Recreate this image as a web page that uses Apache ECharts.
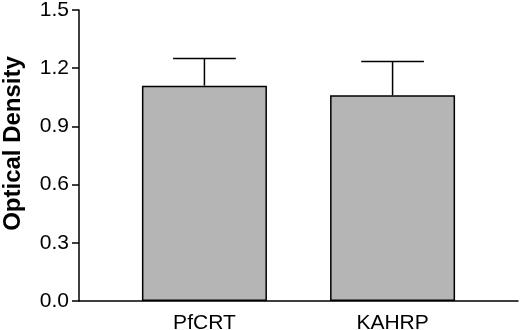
<!DOCTYPE html>
<html lang="en">
<head>
    <meta charset="UTF-8">
    <title>Optical Density</title>
    <script src="https://cdn.jsdelivr.net/npm/echarts@6/dist/echarts.min.js"></script>
</head>
<style>
    body{
        margin: 0;
        padding: 0;
        background: #fff;
    }
</style>
<body>
<div id="main" style="width: 520px;height:330px;"></div>
<script>
    // data
    var categories = ['PfCRT', 'KAHRP'];
    var positions = [1, 2.5];          // bar centres on the x scale
    var means = [1.11, 1.06];
    var errors = [0.14, 0.175];
    var yTicks = [0, 0.3, 0.6, 0.9, 1.2, 1.5];

    var barData = [];
    var errData = [];
    for (var i = 0; i < categories.length; i++) {
        barData.push([positions[i], means[i]]);
        errData.push([positions[i], means[i], means[i] + errors[i]]);
    }

    var chart = echarts.init(document.getElementById('main'));
    var font = '"Liberation Sans", Arial, Helvetica, sans-serif';
    var option = {
        animation: false,
        grid: {left: 79, right: 2, top: 10, bottom: 29, containLabel: false, outerBoundsMode: 'none'},
        xAxis: {
            type: 'value',
            min: 0,
            max: 3.5,
            splitLine: {show: false},
            axisLine: {lineStyle: {color: '#000', width: 1.5}},
            axisTick: {show: false},
            axisLabel: {
                customValues: positions,
                margin: 12,
                color: '#000',
                fontSize: 21,
                fontFamily: font,
                formatter: function (v) {
                    var k = positions.indexOf(v);
                    return k >= 0 ? categories[k] : '';
                }
            }
        },
        yAxis: {
            type: 'value',
            min: yTicks[0],
            max: yTicks[yTicks.length - 1],
            interval: 0.3,
            splitLine: {show: false},
            axisLine: {show: true, lineStyle: {color: '#000', width: 1.5}},
            axisTick: {show: true, length: 7, lineStyle: {color: '#000', width: 1.5}},
            axisLabel: {
                color: '#000',
                fontSize: 21,
                margin: 10,
                fontFamily: font,
                formatter: function (v) { return v.toFixed(1); }
            },
            name: 'Optical Density',
            nameLocation: 'middle',
            nameRotate: 90,
            nameGap: 54,
            nameTextStyle: {
                color: '#000',
                fontSize: 24,
                fontWeight: 'bold',
                fontFamily: font,
                padding: [0, 0, 0, 24]
            }
        },
        series: [{
            type: 'bar',
            data: barData,
            barWidth: 125,
            itemStyle: {color: '#b5b5b5', borderColor: '#000', borderWidth: 1.5},
            z: 2
        }, {
            type: 'custom',
            data: errData,
            z: 3,
            renderItem: function (params, api) {
                var top = api.coord([api.value(0), api.value(2)]);
                var base = api.coord([api.value(0), api.value(1)]);
                var half = api.size([0.25, 0])[0];
                var style = {stroke: '#000', lineWidth: 1.5};
                return {
                    type: 'group',
                    children: [{
                        type: 'line',
                        shape: {x1: base[0], y1: base[1], x2: top[0], y2: top[1]},
                        style: style
                    }, {
                        type: 'line',
                        shape: {x1: top[0] - half, y1: top[1], x2: top[0] + half, y2: top[1]},
                        style: style
                    }]
                };
            }
        }]
    };
    chart.setOption(option);
</script>
</body>
</html>
